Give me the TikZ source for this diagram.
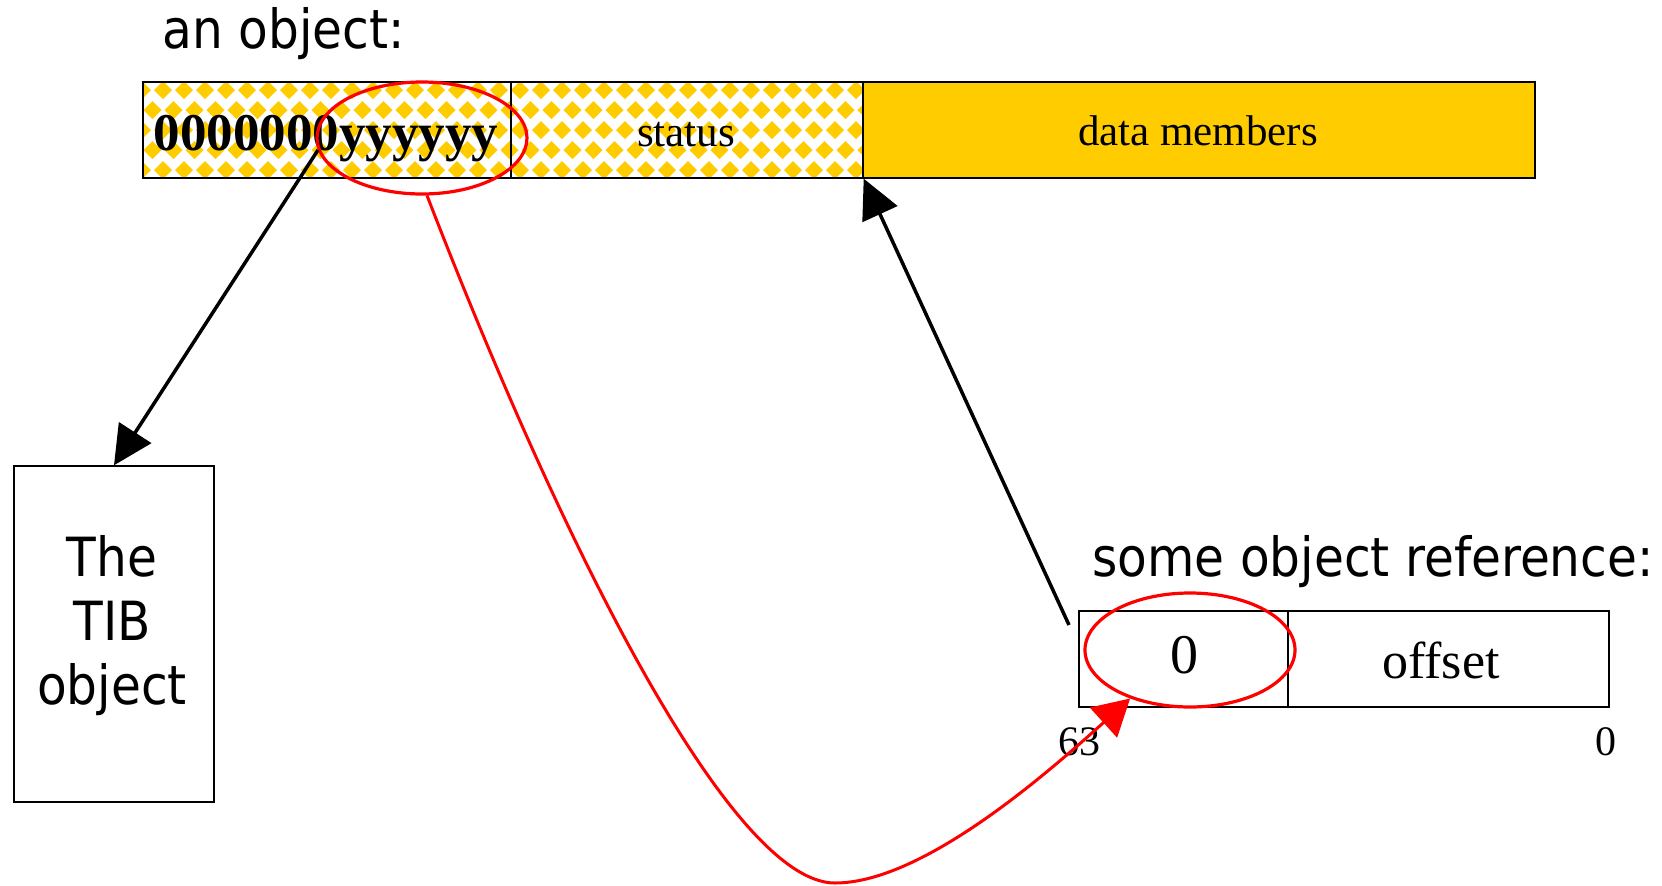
\documentclass[tikz,border=0pt]{standalone}
\usepackage{fontspec}
\setmainfont{Liberation Serif}
\newfontfamily\sansf[FakeStretch=0.9]{DejaVu Sans}
\usetikzlibrary{arrows.meta,shapes.geometric}
\definecolor{gold}{HTML}{FFCC00}
\begin{document}
\begin{tikzpicture}[x=0.5pt,y=-0.5pt,
  cell/.style={rectangle, draw=black, line width=0.7pt, minimum height=48pt, inner sep=0pt},
  oval/.style={ellipse, draw=red, line width=1.6pt, inner sep=0pt},
  blk/.style={line width=1.75pt, -{Triangle[length=19.5pt,width=19pt]}},
  redarr/.style={red, line width=1.5pt, -{Triangle[length=18pt,width=20pt]}},
  sanslbl/.style={font=\sansf\fontsize{27}{32}\selectfont, inner sep=0pt},
  txt/.style={inner sep=0pt, anchor=base}]
\useasboundingbox (0,0) rectangle (1662,885);
\fill[white] (0,0) rectangle (1662,885);
% checkered pattern of the first two cells
\begin{scope}
\clip (143,82) rectangle (863,178);
\fill[gold] \foreach \i in {0,...,35}{\foreach \j in {0,...,3}{
  (142+21*\i-9,90+40*\j) -- ++(9,-9) -- ++(9,9) -- ++(-9,9) -- cycle
  (152.5+21*\i-9,70+40*\j) -- ++(9,-9) -- ++(9,9) -- ++(-9,9) -- cycle
}};
\end{scope}
% object cells
\node[cell, minimum width=184pt] (c1) at (327,130) {};
\node[cell, minimum width=176pt] (c2) at (687,130) {};
\node[cell, fill=gold, minimum width=336pt] (c3) at (1199,130) {};
% reference cells
\node[cell, minimum width=104.5pt] (r1) at (1183.5,659) {};
\node[cell, minimum width=160.5pt] (r2) at (1448.5,659) {};
% TIB box
\node[cell, minimum width=100pt, minimum height=168pt] (tib) at (114,634) {};
% texts
\node[sanslbl, anchor=base west] (lobj) at (162,48) {an object:};
\node[sanslbl, anchor=base west] (lref) at (1092,576) {some object reference:};
\node[sanslbl, align=center] (tibtext) at (112,626) {The\\TIB\\object};
\node[txt, font=\bfseries\fontsize{26.5}{30}\selectfont] (t1) at (326,150) {0000000yyyyyy};
\node[txt, font=\fontsize{21.5}{25}\selectfont] (t2) at (686,146) {status};
\node[txt, font=\fontsize{21.5}{25}\selectfont] (t3) at (1198,145) {data members};
\node[txt, font=\fontsize{28}{32}\selectfont] (t4) at (1184,673) {0};
\node[txt, font=\fontsize{26}{30}\selectfont] (t5) at (1441,678) {offset};
\node[txt, font=\fontsize{21}{25}\selectfont] (b63) at (1079,755) {63};
\node[txt, font=\fontsize{21}{25}\selectfont] (b0) at (1606,755) {0};
% red ovals
\node[oval, minimum width=105pt, minimum height=56pt] (e1) at (422,138) {};
\node[oval, minimum width=105pt, minimum height=57pt] (e2) at (1190,650) {};
% arrows
\coordinate (s1) at (318,150);
\coordinate (s2) at (1069,625);
\coordinate (bot) at (835,883);
\draw[blk] (s1) -- (tib.north);
\draw[blk] (s2) -- (c2.south east);
\draw[redarr] (e1.-85) .. controls (560,540) and (730,883) .. (bot) .. controls (920,883) and (1040,780) .. (e2.219);
\end{tikzpicture}
\end{document}
